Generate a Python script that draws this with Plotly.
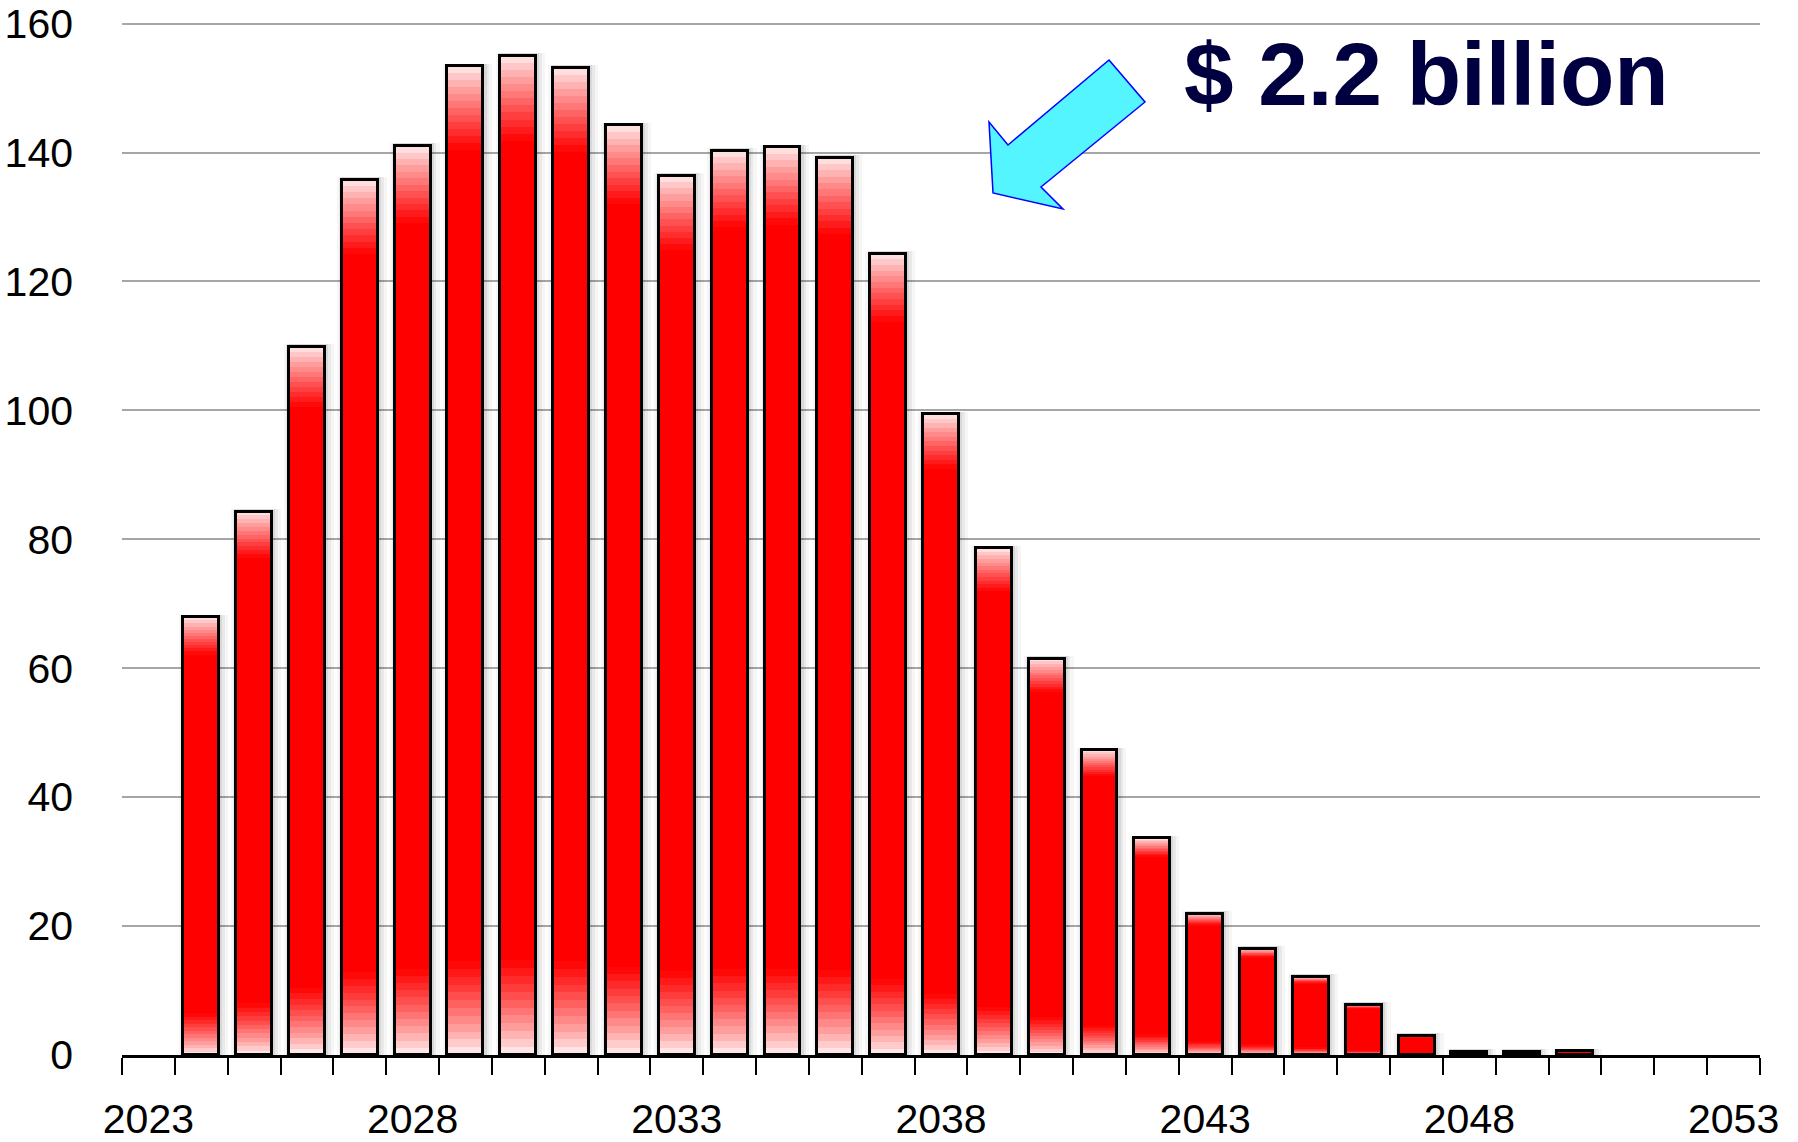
import plotly.graph_objects as go

# ---- data ----
years = list(range(2024, 2051))
values = [67.9, 84.3, 109.9, 135.8, 141.0, 153.4, 155.0, 153.1, 144.2, 136.4,
          140.3, 140.8, 139.2, 124.3, 99.4, 78.6, 61.5, 47.3, 33.6, 21.9,
          16.5, 12.1, 7.8, 3.0, 0.5, 0.5, 0.6]
tick_years = [2023, 2028, 2033, 2038, 2043, 2048, 2053]
tick_labels = [str(y) for y in tick_years]
y_ticks = [0, 20, 40, 60, 80, 100, 120, 140, 160]
annotation_text = "$ 2.2 billion"

FONT = "Liberation Sans, Arial, sans-serif"
tick_size = 41
ann_size = 89

W, H = 1798, 1142
L, R, T, B = 122, 38, 21, 87
PW, PH = W - L - R, H - T - B

BAR_W = 0.68
fig = go.Figure()

# soft shadow around bars
for extra, alpha, shift in [(0.26, 0.035, 0.04), (0.16, 0.05, 0.03), (0.08, 0.07, 0.02)]:
    fig.add_trace(go.Bar(x=years, y=[v + 0.4 for v in values], width=BAR_W + extra,
                         offset=-(BAR_W + extra) / 2 + shift,
                         marker=dict(color="rgba(0,0,0,%.3f)" % alpha, line=dict(width=0)),
                         hoverinfo="skip", showlegend=False))
# base red
fig.add_trace(go.Bar(x=years, y=values, width=BAR_W,
                     marker=dict(color="#ff0000", line=dict(width=0)),
                     showlegend=False))

def mix(t, c0, c1):
    return "rgb(%d,%d,%d)" % tuple(round(a + (b - a) * t) for a, b in zip(c0, c1))

N = 12
FB, FT = 0.095, 0.085
for k in range(N):
    t = (k + 0.5) / N
    # bottom fade: near white at bottom -> red (k=0 is lowest)
    fig.add_trace(go.Bar(x=years, y=[v * FB / N for v in values],
                         base=[v * FB * k / N for v in values], width=BAR_W,
                         marker=dict(color=mix(t ** 0.8, (255, 250, 250), (255, 0, 0)), line=dict(width=0)),
                         hoverinfo="skip", showlegend=False))
    # top fade: light pink at top -> red (k=0 is highest)
    fig.add_trace(go.Bar(x=years, y=[v * FT / N for v in values],
                         base=[v * (1 - FT * (k + 1) / N) for v in values], width=BAR_W,
                         marker=dict(color=mix(t ** 0.9, (255, 235, 235), (255, 0, 0)), line=dict(width=0)),
                         hoverinfo="skip", showlegend=False))

# outline
fig.add_trace(go.Bar(x=years, y=values, width=BAR_W,
                     marker=dict(color="rgba(0,0,0,0)", line=dict(color="black", width=3)),
                     hoverinfo="skip", showlegend=False))

def px2paper(x, y):
    return (x - L) / PW, (H - B - y) / PH

arrow_px = [(1109, 60), (1145, 102), (1041, 187), (1063, 209), (993, 193), (989, 122), (1008, 145)]
pts = [px2paper(x, y) for x, y in arrow_px]
path = "M " + " L ".join("%.5f,%.5f" % p for p in pts) + " Z"

ax, ay = px2paper(1182, 74)

fig.update_layout(
    width=W, height=H,
    margin=dict(l=L, r=R, t=T, b=B, autoexpand=False),
    paper_bgcolor="white", plot_bgcolor="white",
    barmode="overlay", bargap=0,
    font=dict(family=FONT, color="black", size=tick_size),
    xaxis=dict(range=[2022.5, 2053.5], tickmode="array", tickvals=tick_years,
               ticktext=tick_labels, ticks="", showgrid=False, zeroline=False,
               showline=True, linecolor="black", linewidth=3, automargin=False,
               ticklabelstandoff=26,
               minor=dict(tickmode="array",
                          tickvals=[y + 0.5 for y in range(2022, 2054)],
                          ticks="outside", ticklen=17, tickwidth=2, tickcolor="black",
                          showgrid=False),
               tickfont=dict(family=FONT, size=tick_size, color="black")),
    yaxis=dict(range=[0, 160.4], tickmode="array", tickvals=y_ticks, ticks="",
               showgrid=True, gridcolor="#a6a6a6", gridwidth=2, zeroline=False,
               showline=False, ticklabelstandoff=48, automargin=False,
               tickfont=dict(family=FONT, size=tick_size, color="black")),
    shapes=[dict(type="path", xref="paper", yref="paper", path=path,
                 fillcolor="#55f5ff", line=dict(color="#0000ff", width=1.5), layer="above")],
    annotations=[dict(text="<b>" + annotation_text + "</b>", xref="paper", yref="paper",
                      x=ax, y=ay, xanchor="left", yanchor="middle", showarrow=False,
                      font=dict(family=FONT, size=ann_size, color="#000040"))],
)

fig.write_html("out.html", config={"displayModeBar": False},
               post_script="document.body.style.margin='0';document.body.style.overflow='hidden';")
